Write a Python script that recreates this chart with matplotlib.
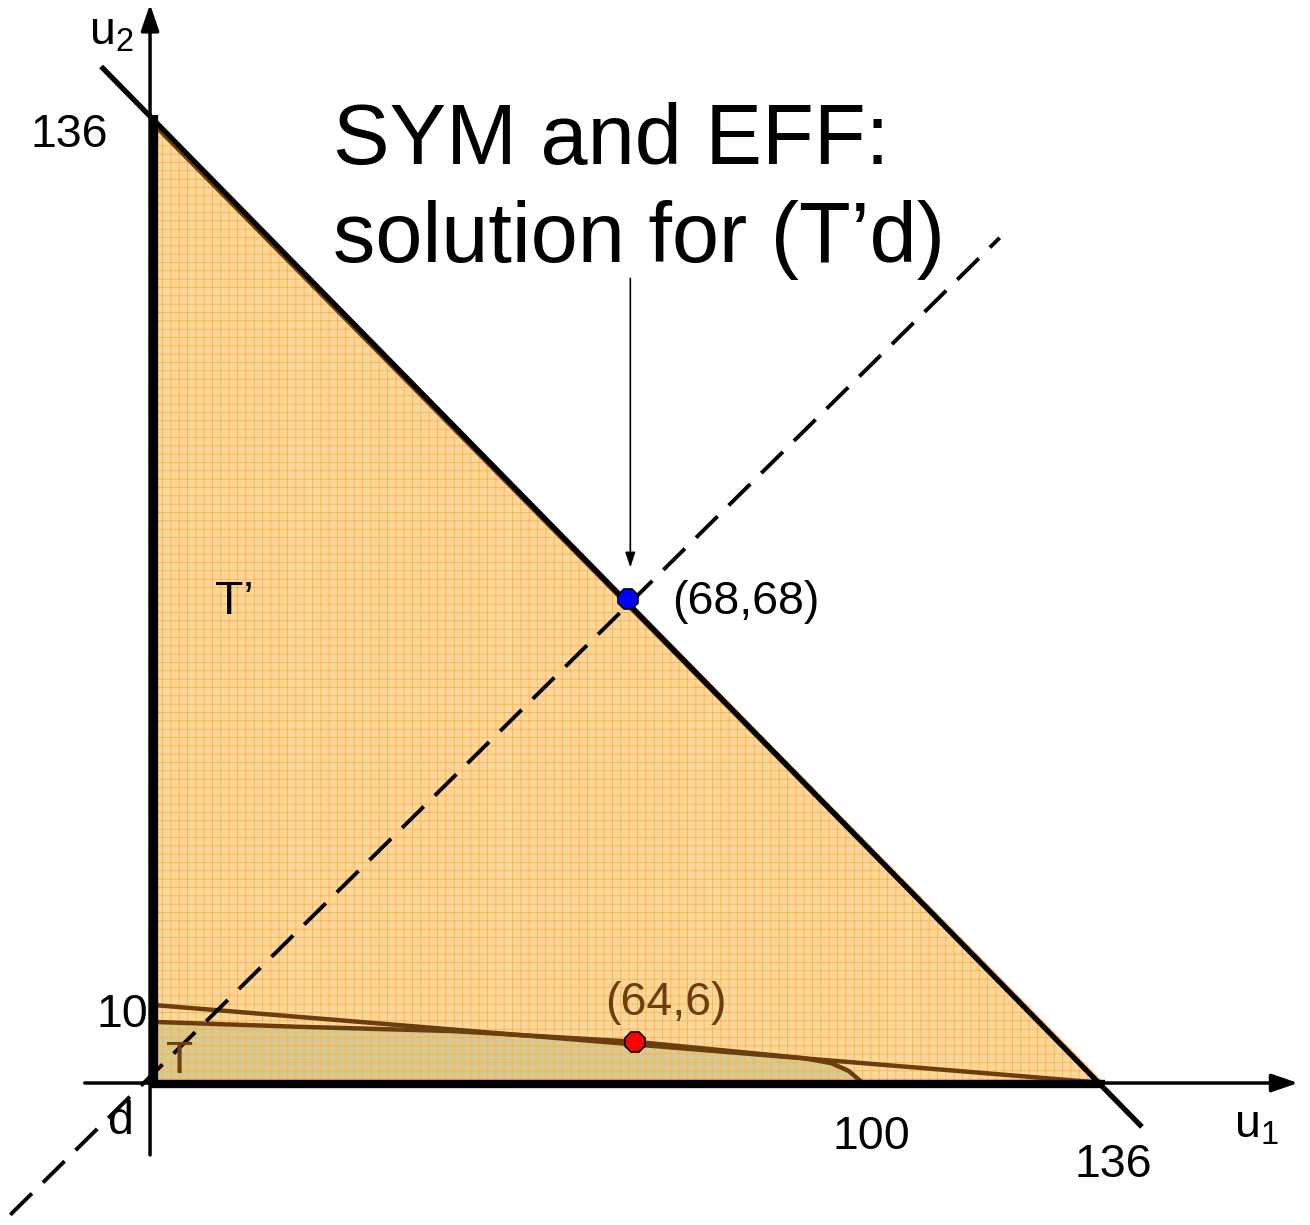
import matplotlib
matplotlib.use("Agg")
import matplotlib.pyplot as plt
from matplotlib.patches import Polygon
import numpy as np

plt.rcParams['font.family'] = ['Liberation Sans', 'DejaVu Sans']
plt.rcParams['hatch.linewidth'] = 0.6

# ---- data ----
t_prime_vertices_u1 = [0, 0, 136]
t_prime_vertices_u2 = [0, 136, 0]
upper_line_u1 = [0, 136]
upper_line_u2 = [11, 0]
t_curve_u1 = [0, 21, 43, 69, 93, 97, 99.5, 101.5]
t_curve_u2 = [8.6, 7.9, 7.3, 5.8, 3.5, 2.8, 1.7, 0.0]
sym_point = (68, 68)
t_point = (69, 5.8)
sym_label = "(68,68)"
t_label = "(64,6)"

fig = plt.figure(figsize=(13.1, 12.25), dpi=100)
ax = fig.add_axes([0, 0, 1, 1])
ax.set_xlim(-21.37, 165.2)
ax.set_ylim(-19.94, 152.1)
ax.axis('off')

orange_face = '#FFD79C'
orange_hatch = '#F9B446'
olive_face = '#D8C891'
brown = '#6B3E10'

# T' triangle
tri = Polygon(np.column_stack([t_prime_vertices_u1, t_prime_vertices_u2]), closed=True,
              facecolor=orange_face, edgecolor=orange_hatch, hatch='++', linewidth=0, zorder=1)
ax.add_patch(tri)

# T region under curve
cx = np.array(t_curve_u1 + [0])
cy = np.array(t_curve_u2 + [0])
treg = Polygon(np.column_stack([cx, cy]), closed=True, facecolor=olive_face,
               edgecolor=orange_hatch, hatch='++', linewidth=0, zorder=2)
ax.add_patch(treg)

# boundary curves (brown)
ax.plot(upper_line_u1, upper_line_u2, color=brown, lw=3.2, zorder=3, solid_capstyle='butt')
ax.plot(t_curve_u1, t_curve_u2, color=brown, lw=3.2, zorder=3, solid_capstyle='butt')

# axes arrows (thin)
ax.annotate('', xy=(163.5, 0), xytext=(-9.3, 0),
            arrowprops=dict(arrowstyle='-|>,head_length=1.6,head_width=0.55', color='black', lw=2.5,
                            shrinkA=0, shrinkB=0), zorder=4)
ax.annotate('', xy=(0, 151.5), xytext=(0, -10.1),
            arrowprops=dict(arrowstyle='-|>,head_length=1.6,head_width=0.55', color='black', lw=2.5,
                            shrinkA=0, shrinkB=0), zorder=4)

# thick axis segments of T'
ax.plot([0, 136], [-0.2, -0.2], color='black', lw=6, zorder=5, solid_capstyle='butt')
ax.plot([0.6, 0.6], [0, 136], color='black', lw=6, zorder=5, solid_capstyle='butt')

# hypotenuse (efficient frontier) extended
ax.plot([0.8, 134.5], [134.2, 0.5], color=brown, lw=2.0, zorder=4.5)
ax.plot([-6.7, 141], [142.5, -5.9], color='black', lw=3.8, zorder=5)

# dashed symmetry line
ax.plot([-19.9, 121], [-18.5, 118.7], color='black', lw=2.8, dashes=(7.8, 4.0), zorder=6)

# arrow from title to point
ax.annotate('', xy=(68.4, 72.4), xytext=(68.4, 113),
            arrowprops=dict(arrowstyle='-|>,head_length=0.9,head_width=0.3', color='black', lw=1.2,
                            shrinkA=0, shrinkB=0), zorder=6)

# points
ax.plot([sym_point[0]], [sym_point[1]], marker='8', ms=15, mfc='#0000FF', mec='black', mew=1.2, zorder=8)
ax.plot([t_point[0]], [t_point[1]], marker='8', ms=15, mfc='#FF0000', mec='black', mew=1.2, zorder=8)

# texts
ax.text(26.1, 115.3, "SYM and EFF:\nsolution for (T\u2019d)", fontsize=61, ha='left', va='baseline',
        linespacing=1.29, zorder=9)
ax.text(74.4, 67.5, sym_label, fontsize=33.5, ha='left', va='center', zorder=9)
ax.text(73.5, 11.2, t_label, fontsize=33.5, ha='center', va='center', color=brown, zorder=9)
ax.text(9.3, 67.5, "T\u2019", fontsize=33.5, ha='left', va='center', zorder=9)
ax.text(2.3, 3.0, "T", fontsize=32, ha='left', va='center', color=brown, zorder=9)
ax.text(-6.0, 133.2, "136", fontsize=33.5, ha='right', va='center', zorder=9)
ax.text(-0.3, 9.6, "10", fontsize=33.5, ha='right', va='center', zorder=9)
ax.text(-4.2, -5.5, "d", fontsize=33.5, ha='center', va='center', zorder=9)
ax.text(102.8, -7.6, "100", fontsize=33.5, ha='center', va='center', zorder=9)
ax.text(137.2, -11.5, "136", fontsize=33.5, ha='center', va='center', zorder=9)
ax.text(157.5, -6.0, "u$_\\mathregular{1}$", fontsize=33.5, ha='center', va='center', zorder=9)
ax.text(-5.5, 147.5, "u$_\\mathregular{2}$", fontsize=33.5, ha='center', va='center', zorder=9)

fig.savefig("out.png", dpi=100)
